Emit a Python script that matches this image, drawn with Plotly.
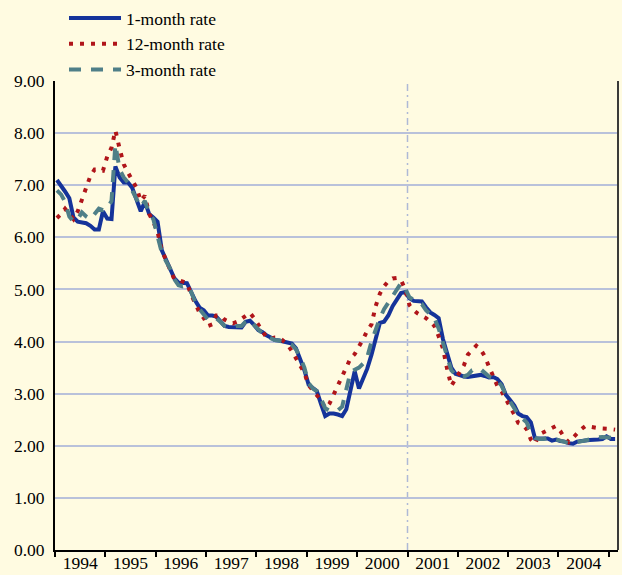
import pandas as pd
import plotly.graph_objects as go

# Monthly observations, January 1994 onward (one value per month)
start_month = "1994-01-01"

rate_1m = [
    7.10, 7.00, 6.88, 6.75, 6.38, 6.30, 6.28, 6.27, 6.22, 6.15, 6.15, 6.50,
    6.36, 6.35, 7.36, 7.15, 7.05, 7.05, 6.95, 6.75, 6.50, 6.68, 6.45, 6.38,
    6.30, 5.75, 5.58, 5.42, 5.22, 5.13, 5.12, 5.12, 4.95, 4.78, 4.65, 4.60,
    4.50, 4.50, 4.48, 4.38, 4.30, 4.28, 4.28, 4.28, 4.27, 4.38, 4.40, 4.32,
    4.22, 4.18, 4.12, 4.08, 4.03, 4.02, 4.00, 3.98, 3.96, 3.87, 3.66, 3.45,
    3.17, 3.11, 3.05, 2.80, 2.57, 2.62, 2.62, 2.60, 2.57, 2.70, 3.05, 3.43,
    3.10, 3.30, 3.48, 3.75, 4.05, 4.36, 4.38, 4.50, 4.68, 4.82, 4.93, 4.95,
    4.83, 4.78, 4.77, 4.77, 4.66, 4.56, 4.51, 4.45, 4.05, 3.75, 3.50, 3.38,
    3.35, 3.33, 3.32, 3.33, 3.35, 3.36, 3.34, 3.31, 3.32, 3.28, 3.18, 2.98,
    2.88, 2.77, 2.62, 2.57, 2.55, 2.45, 2.14, 2.14, 2.14, 2.14, 2.10, 2.12,
    2.09, 2.08, 2.05, 2.04, 2.08, 2.10, 2.10, 2.11, 2.11, 2.12, 2.13, 2.18,
    2.13, 2.13,
]

rate_12m = [
    6.37, 6.45, 6.55, 6.45, 6.35, 6.50, 6.72, 6.93, 7.18, 7.30, 7.30, 7.28,
    7.55, 7.72, 8.05, 7.70, 7.40, 7.24, 7.10, 6.95, 6.70, 6.80, 6.45, 6.30,
    6.10, 5.75, 5.57, 5.40, 5.20, 5.18, 5.15, 5.12, 4.90, 4.72, 4.55, 4.45,
    4.30, 4.33, 4.50, 4.50, 4.42, 4.38, 4.35, 4.38, 4.43, 4.50, 4.55, 4.45,
    4.32, 4.20, 4.08, 4.05, 4.08, 4.08, 4.02, 3.94, 3.82, 3.67, 3.52, 3.40,
    3.16, 3.05, 2.97, 2.88, 2.72, 2.81, 2.98, 3.16, 3.33, 3.50, 3.68, 3.76,
    3.89, 4.05, 4.21, 4.33, 4.68, 4.92, 5.06, 5.16, 5.21, 5.22, 5.18, 5.00,
    4.70, 4.60, 4.54, 4.50, 4.45, 4.38, 4.30, 4.10, 3.87, 3.48, 3.15, 3.28,
    3.41, 3.55, 3.75, 3.85, 3.92, 3.85, 3.72, 3.52, 3.32, 3.15, 3.04, 2.90,
    2.76, 2.60, 2.44, 2.40, 2.32, 2.12, 2.04, 2.22, 2.26, 2.30, 2.33, 2.38,
    2.28, 2.15, 2.07, 2.15, 2.25, 2.32, 2.38, 2.36, 2.35, 2.34, 2.33, 2.33,
    2.32, 2.31,
]

rate_3m = [
    6.90, 6.82, 6.68, 6.40, 6.30, 6.35, 6.48, 6.40, 6.35, 6.45, 6.55, 6.52,
    6.55, 6.70, 7.78, 7.30, 7.15, 7.05, 6.90, 6.72, 6.58, 6.70, 6.45, 6.35,
    6.00, 5.70, 5.55, 5.40, 5.20, 5.08, 5.06, 5.08, 4.95, 4.75, 4.62, 4.52,
    4.42, 4.45, 4.45, 4.38, 4.30, 4.28, 4.28, 4.30, 4.30, 4.38, 4.42, 4.32,
    4.22, 4.15, 4.10, 4.06, 4.03, 4.02, 4.00, 3.97, 3.94, 3.85, 3.70, 3.50,
    3.20, 3.10, 3.05, 2.90, 2.72, 2.67, 2.68, 2.68, 2.75, 3.10, 3.42, 3.46,
    3.50, 3.58, 3.70, 4.00, 4.25, 4.45, 4.62, 4.75, 4.88, 5.02, 5.12, 5.02,
    4.85, 4.80, 4.77, 4.72, 4.60, 4.52, 4.45, 4.25, 3.98, 3.70, 3.45, 3.36,
    3.33, 3.33, 3.36, 3.45, 3.48, 3.47, 3.40, 3.33, 3.30, 3.25, 3.15, 2.98,
    2.85, 2.72, 2.60, 2.52, 2.45, 2.25, 2.15, 2.13, 2.13, 2.15, 2.14, 2.12,
    2.10, 2.08, 2.05, 2.05, 2.07, 2.09, 2.10, 2.12, 2.14, 2.16, 2.17, 2.16,
    2.15, 2.15,
]

y_ticks = [0, 1, 2, 3, 4, 5, 6, 7, 8, 9]
divider_date = "2001-01-01"

# Each month is plotted at mid-month
months = pd.date_range(start_month, periods=len(rate_1m), freq="MS") + pd.Timedelta(days=14)

BG = "#FFFBE1"
GRID = "#B9C1DA"
FONT = "Liberation Serif"

fig = go.Figure()
fig.add_trace(go.Scatter(
    x=months, y=rate_1m, name="1-month rate", mode="lines",
    line=dict(color="#15339A", width=4),
))
fig.add_trace(go.Scatter(
    x=months, y=rate_12m, name="12-month rate", mode="lines",
    line=dict(color="#B0151A", width=4, dash="4px,7px"),
))
fig.add_trace(go.Scatter(
    x=months, y=rate_3m, name="3-month rate", mode="lines",
    line=dict(color="#4F7F88", width=4, dash="12px,10px"),
))

# Vertical marker at the start of 2001
fig.add_shape(type="line", xref="x", yref="paper",
              x0=divider_date, x1=divider_date, y0=0, y1=1,
              line=dict(color="#AEB9D6", width=1.5, dash="7px,4px,2px,4px"),
              layer="below")
# Right-hand frame edge
fig.add_shape(type="line", xref="paper", yref="paper",
              x0=1, x1=1, y0=0, y1=1,
              line=dict(color="#3A3A3A", width=2))

fig.update_layout(
    width=622, height=575,
    margin=dict(l=55, r=4, t=81, b=25, autoexpand=False),
    paper_bgcolor=BG, plot_bgcolor=BG,
    font=dict(family=FONT, size=17.5, color="black"),
    showlegend=True,
    legend=dict(
        xref="container", yref="container",
        x=64 / 622, y=1 + 4 / 575, xanchor="left", yanchor="top",
        bgcolor="rgba(0,0,0,0)", borderwidth=0,
        itemwidth=52,
        font=dict(family=FONT, size=17.5, color="black"),
        traceorder="normal",
    ),
)

fig.update_xaxes(
    type="date",
    range=["1994-01-01", "2005-03-08"],
    tick0="1994-01-01", dtick="M12",
    tickformat="%Y", ticklabelmode="period", tickangle=0,
    ticks="outside", ticklen=5, tickwidth=1.5, tickcolor="black",
    ticklabelstandoff=-9,
    showline=True, linecolor="black", linewidth=2,
    showgrid=False, zeroline=False,
    tickfont=dict(family=FONT, size=17.5, color="black"),
)
fig.update_yaxes(
    range=[0, 9],
    tickvals=y_ticks, tickformat=".2f",
    ticks="", ticklabelstandoff=5,
    showline=True, linecolor="black", linewidth=2,
    showgrid=True, gridcolor=GRID, gridwidth=1.5,
    zeroline=False,
    tickfont=dict(family=FONT, size=17.5, color="black"),
)

fig.write_html("out.html")
